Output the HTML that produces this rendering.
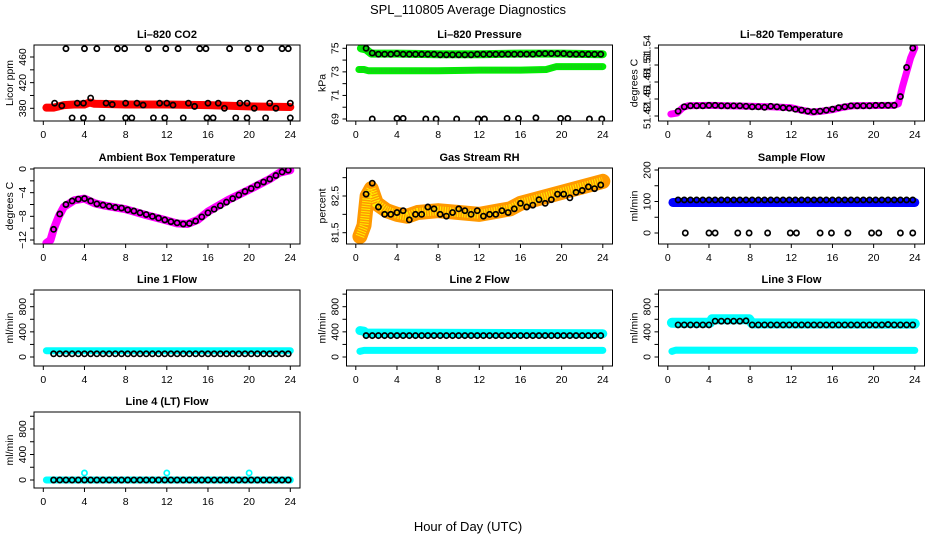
<!DOCTYPE html>
<html><head><meta charset="utf-8">
<style>
html,body{margin:0;padding:0;background:#fff;}
svg{display:block;font-family:"Liberation Sans",sans-serif;}
.t{font-weight:bold;font-size:11px;}
.tk{font-size:10.5px;}
</style></head>
<body>
<svg id="chart" width="936" height="540" viewBox="0 0 936 540">
<text x="468" y="14" text-anchor="middle" font-size="13">SPL_110805  Average Diagnostics</text>
<text x="468" y="531" text-anchor="middle" font-size="13">Hour of Day (UTC)</text>
</svg>
<script>
// shared categories
const circleHours = [1.0,1.6,2.2,2.8,3.4,4.0,4.6,5.2,5.8,6.4,7.0,7.6,8.2,8.8,9.4,10.0,10.6,11.2,11.8,12.4,13.0,13.6,14.2,14.8,15.4,16.0,16.6,17.2,17.8,18.4,19.0,19.6,20.2,20.8,21.4,22.0,22.6,23.2,23.8];
const xTicks = [0,4,8,12,16,20,24];

// CO2
const co2BandH = [0.3,1,2,3,4,4.5,5,8,12,16,20,24];
const co2BandV = [381,381,385,386,386,389,387,386,386,385,383,382];
const co2MidH = [1.1,1.8,3.3,3.9,4.6,6.1,6.7,8,9.1,9.7,11.3,12,12.6,14.1,14.7,16,17,17.6,19.1,19.8,20.5,22,22.6,24];
const co2MidV = [388,384,388,388,396,388,386,388,388,385,388,388,385,388,383,388,388,380,388,388,380,388,380,388];
const co2TopH = [2.2,4.0,5.2,7.2,7.9,10.2,11.9,13.1,15.2,15.8,18.1,19.9,21.1,23.2,23.8];
const co2TopV = [473,473,473,473,473,473,473,473,473,473,473,473,473,473,473];
const co2LowH = [2.8,3.9,5.7,8.0,8.6,10.7,11.8,13.6,15.9,16.5,18.7,19.8,21.6,24.0];
const co2LowV = [365,365,365,365,365,365,365,365,365,365,365,365,365,365];

// Pressure
const prUpH = [0.5,1,1.5,4,8,12,16,20,24];
const prUpV = [75.0,74.9,74.55,74.55,74.5,74.5,74.55,74.55,74.5];
const prLoH = [0.3,0.8,1.2,4,8,12,16,18.5,19.5,24];
const prLoV = [73.2,73.2,73.1,73.1,73.1,73.15,73.15,73.2,73.45,73.45];
const prCircV = [75.0,74.6,74.5,74.5,74.5,74.55,74.5,74.5,74.5,74.5,74.5,74.5,74.45,74.45,74.45,74.45,74.45,74.45,74.5,74.5,74.5,74.5,74.5,74.5,74.5,74.5,74.5,74.5,74.55,74.55,74.55,74.55,74.55,74.5,74.5,74.5,74.5,74.5,74.5];
const prLowH = [1.6,4.0,4.6,6.8,7.8,9.8,11.9,12.5,14.7,15.8,17.5,19.9,20.6,22.7,23.9];
const prLowV = [69,69.05,69.05,69,69,69,69,69,69.05,69.05,69.1,69.05,69.05,69,69];

// Li-820 temperature
const ltBandH = [0.3,0.9,1.5,2,4,8,10,12,13,14,15,16,17,18,22,22.4,22.8,23.2,23.6,24];
const ltBandV = [51.404,51.406,51.418,51.421,51.422,51.42,51.419,51.417,51.412,51.408,51.41,51.413,51.418,51.421,51.422,51.425,51.46,51.49,51.52,51.54];
const ltCircV = [51.41,51.419,51.421,51.421,51.421,51.422,51.422,51.421,51.421,51.421,51.421,51.42,51.419,51.419,51.418,51.42,51.419,51.417,51.416,51.414,51.412,51.41,51.409,51.41,51.412,51.414,51.417,51.419,51.421,51.421,51.421,51.421,51.422,51.422,51.422,51.422,51.44,51.5,51.54];
const ltTicks = [51.40,51.435,51.47,51.505,51.54];
const ltTickLabels = ['51.42','51.45','51.48','51.51','51.54'];

// Ambient box temperature
const abBandH = [0.3,0.7,1,1.5,2,3,4,5,6,8,10,12,13,14,15,16,18,20,22,23,24];
const abBandV = [-12.5,-12,-10.2,-8,-6.4,-5.3,-5,-5.8,-6.2,-6.8,-7.8,-8.7,-9.2,-9.3,-8.6,-7.2,-5.2,-3.5,-1.7,-0.6,-0.2];
const abCircV = [-10.2,-7.6,-6.0,-5.4,-5.1,-5.0,-5.4,-5.9,-6.1,-6.3,-6.5,-6.6,-6.9,-7.1,-7.4,-7.7,-8.0,-8.3,-8.6,-8.9,-9.1,-9.3,-9.2,-8.8,-8.1,-7.4,-6.8,-6.2,-5.6,-5.0,-4.4,-3.8,-3.3,-2.7,-2.2,-1.7,-1.1,-0.5,-0.2];

// Gas stream RH
const rhBandH = [0.4,0.8,1.1,1.5,2,3,4,5,6,8,10,12,14,15,16,18,20,22,24];
const rhBandV = [81.4,81.7,82.5,82.7,82.3,82.1,82.0,81.95,82.05,82.1,82.05,82.0,82.1,82.15,82.3,82.45,82.6,82.75,82.9];
const rhCircV = [82.55,82.85,82.2,82.0,82.0,82.05,82.1,81.85,82.0,82.0,82.2,82.15,82.0,81.95,82.05,82.15,82.1,82.0,82.1,81.95,82.0,82.0,82.1,82.05,82.15,82.3,82.2,82.25,82.4,82.3,82.4,82.55,82.55,82.45,82.6,82.65,82.75,82.7,82.8];

// Sample flow
const sfBandH = [0.5,24];
const sfBandV = [97,97];
const sfCircV = [105,105,105,105,105,105,105,105,105,105,105,105,105,105,105,105,105,105,105,105,105,105,105,105,105,105,105,105,105,105,105,105,105,105,105,105,105,105,105];
const sfLowH = [1.7,4.0,4.6,6.8,7.9,9.7,11.9,12.5,14.8,15.9,17.5,19.8,20.5,22.6,23.8];
const sfLowV = [0,0,0,0,0,0,0,0,0,0,0,0,0,0,0];

// Line flows
const l1BandH = [0.3,24]; const l1BandV = [100,100];
const l1CircV = [50,50,50,50,50,50,50,50,50,50,50,50,50,50,50,50,50,50,50,50,50,50,50,50,50,50,50,50,50,50,50,50,50,50,50,50,50,50,50];
const l2UpH = [0.4,0.8,1,24]; const l2UpV = [420,410,380,370];
const l2LoH = [0.4,0.8,24]; const l2LoV = [90,105,105];
const l2CircV = [340,340,340,340,340,340,340,340,340,340,340,340,340,340,340,340,340,340,340,340,340,340,340,340,340,340,340,340,340,340,340,340,340,340,340,340,340,340,340];
const l3UpH = [0.4,4.1,4.3,7.9,8.2,24]; const l3UpV = [545,545,600,600,535,530];
const l3LoH = [0.4,0.8,24]; const l3LoV = [90,110,105];
const l3CircV = [510,510,510,510,510,510,570,570,570,570,570,575,510,510,510,510,510,510,510,510,510,510,510,510,510,510,510,510,510,510,510,510,510,510,515,510,510,510,510];
const l4BandH = [0.3,24]; const l4BandV = [0,0];
const l4CircV = [0,0,0,0,0,0,0,0,0,0,0,0,0,0,0,0,0,0,0,0,0,0,0,0,0,0,0,0,0,0,0,0,0,0,0,0,0,0,0];
const l4SpikeH = [4,12,20]; const l4SpikeV = [110,110,110];

const NS = "http://www.w3.org/2000/svg";
const svg = document.getElementById('chart');
function mk(tag, parent) { const e = document.createElementNS(NS, tag); parent.appendChild(e); return e; }

const colL = [34, 346.5, 658.5];
const rowT = [45, 168, 290, 412];
const W = 266, H = 76;

function panel(o) {
  const L = colL[o.c], T = rowT[o.r];
  const g = mk('g', svg);
  
  
  const xs = h => L + 9.3 + h * (247 / 24);
  const ys = v => T + o.p1 + (v - o.v1) * (o.p2 - o.p1) / (o.v2 - o.v1);
  const clip = mk('clipPath', g); clip.setAttribute('id', 'cl' + o.name);
  const cr = mk('rect', clip); cr.setAttribute('x', L); cr.setAttribute('y', T); cr.setAttribute('width', W); cr.setAttribute('height', H);
  const pg = mk('g', g); pg.setAttribute('clip-path', 'url(#cl' + o.name + ')');
  
  
  (o.bands || []).forEach((b, i) => {
    const pl = mk('polyline', pg);
    
    
    pl.setAttribute('points', b.x.map((h, k) => xs(h) + ',' + ys(b.y[k])).join(' '));
    pl.setAttribute('fill', 'none'); pl.setAttribute('stroke', b.col); pl.setAttribute('stroke-width', b.w);
    pl.setAttribute('stroke-linejoin', 'round'); pl.setAttribute('stroke-linecap', 'round');
    if (b.dash) {
      const p2 = mk('polyline', pg);
      
      
      p2.setAttribute('points', b.x.map((h, k) => xs(h) + ',' + ys(b.y[k])).join(' '));
      p2.setAttribute('fill', 'none'); p2.setAttribute('stroke', b.dash); p2.setAttribute('stroke-width', b.w * 0.6);
      p2.setAttribute('stroke-dasharray', '1 1.5');
    }
  });
  (o.pts || []).forEach((s, i) => {
    s.x.forEach((h, k) => {
      const c = mk('circle', pg);
      
      
      c.setAttribute('cx', xs(h)); c.setAttribute('cy', ys(s.y[k])); c.setAttribute('r', 2.6);
      c.setAttribute('fill', 'none'); c.setAttribute('stroke', s.col || '#000'); c.setAttribute('stroke-width', 1.7);
    });
  });
  const box = mk('rect', g);
  
  
  box.setAttribute('x', L); box.setAttribute('y', T); box.setAttribute('width', W); box.setAttribute('height', H);
  box.setAttribute('fill', 'none'); box.setAttribute('stroke', '#000'); box.setAttribute('stroke-width', 1);
  const tt = mk('text', g);
  
  
  tt.setAttribute('class', 't'); tt.setAttribute('x', L + W / 2); tt.setAttribute('y', T - 7); tt.setAttribute('text-anchor', 'middle');
  tt.textContent = o.title;
  const xa = mk('line', g);
  
  
  xa.setAttribute('x1', xs(0)); xa.setAttribute('x2', xs(24)); xa.setAttribute('y1', T + H); xa.setAttribute('y2', T + H); xa.setAttribute('stroke', '#000');
  xTicks.forEach(h => {
    const tl = mk('line', g);
    
    
    tl.setAttribute('x1', xs(h)); tl.setAttribute('x2', xs(h)); tl.setAttribute('y1', T + H); tl.setAttribute('y2', T + H + 4); tl.setAttribute('stroke', '#000');
    const tx = mk('text', g);
    
    
    tx.setAttribute('class', 'tk'); tx.setAttribute('x', xs(h)); tx.setAttribute('y', T + H + 17); tx.setAttribute('text-anchor', 'middle');
    tx.textContent = h;
  });
  const yt = o.yt;
  const ya = mk('line', g);
  
  
  ya.setAttribute('x1', L); ya.setAttribute('x2', L); ya.setAttribute('y1', ys(yt[0])); ya.setAttribute('y2', ys(yt[yt.length - 1])); ya.setAttribute('stroke', '#000');
  yt.forEach((v, i) => {
    const tl = mk('line', g);
    
    
    tl.setAttribute('x1', L - 4); tl.setAttribute('x2', L); tl.setAttribute('y1', ys(v)); tl.setAttribute('y2', ys(v)); tl.setAttribute('stroke', '#000');
    if (o.yl[i] !== '') {
      const tx = mk('text', g);
      
      
      tx.setAttribute('class', 'tk'); tx.setAttribute('text-anchor', 'middle');
      tx.setAttribute('transform', 'translate(' + (L - 8) + ',' + ys(v) + ') rotate(-90)');
      tx.textContent = o.yl[i];
    }
  });
  const yl = mk('text', g);
  
  
  yl.setAttribute('class', 'tk'); yl.setAttribute('text-anchor', 'middle');
  yl.setAttribute('transform', 'translate(' + (L - 21) + ',' + (T + H / 2) + ') rotate(-90)');
  yl.textContent = o.ylab;
}

const K = '#000', CY = '#00ffff';
const flowT = [0,200,400,600,800,1000], flowL = ['0','','400','','800',''];

panel({name:'co2', c:0, r:0, title:'Li\u2013820 CO2', ylab:'Licor ppm', v1:380, p1:63.3, v2:460, p2:12, yt:[380,400,420,440,460], yl:['380','','420','','460'],
  bands:[{x:co2BandH, y:co2BandV, col:'#ff0000', w:8}],
  pts:[{x:co2MidH,y:co2MidV},{x:co2TopH,y:co2TopV},{x:co2LowH,y:co2LowV}]});
panel({name:'pressure', c:1, r:0, title:'Li\u2013820 Pressure', ylab:'kPa', v1:75, p1:3.3, v2:69, p2:74, yt:[69,70,71,72,73,74,75], yl:['69','','71','','73','','75'],
  bands:[{x:prUpH,y:prUpV,col:'#00ee00',w:8,dash:'#22bb22'},{x:prLoH,y:prLoV,col:'#00ee00',w:7,dash:'#22bb22'}],
  pts:[{x:circleHours,y:prCircV},{x:prLowH,y:prLowV}]});
panel({name:'li820-temperature', c:2, r:0, title:'Li\u2013820 Temperature', ylab:'degrees C', v1:51.54, p1:3, v2:51.40, p2:71, yt:ltTicks, yl:ltTickLabels,
  bands:[{x:ltBandH,y:ltBandV,col:'#ff00ff',w:7}],
  pts:[{x:circleHours,y:ltCircV}]});
panel({name:'ambient-temperature', c:0, r:1, title:'Ambient Box Temperature', ylab:'degrees C', v1:0, p1:1, v2:-12, p2:72, yt:[-12,-10,-8,-6,-4,-2,0], yl:['\u221212','','\u22128','','\u22124','','0'],
  bands:[{x:abBandH,y:abBandV,col:'#ff00ff',w:8}],
  pts:[{x:circleHours,y:abCircV}]});
panel({name:'rh', c:1, r:1, title:'Gas Stream RH', ylab:'percent', v1:82.5, p1:28, v2:81.5, p2:64.7, yt:[81.5,82,82.5,83], yl:['81.5','','82.5',''],
  bands:[{x:rhBandH,y:rhBandV,col:'#ff9900',w:15,dash:'#ffee00'}],
  pts:[{x:circleHours,y:rhCircV}]});
panel({name:'sample-flow', c:2, r:1, title:'Sample Flow', ylab:'ml/min', v1:200, p1:2, v2:0, p2:65, yt:[0,50,100,150,200], yl:['0','','100','','200'],
  bands:[{x:sfBandH,y:sfBandV,col:'#0000ff',w:9}],
  pts:[{x:circleHours,y:sfCircV},{x:sfLowH,y:sfLowV}]});
panel({name:'line1-flow', c:0, r:2, title:'Line 1 Flow', ylab:'ml/min', v1:0, p1:67, v2:800, p2:16.7, yt:flowT, yl:flowL,
  bands:[{x:l1BandH,y:l1BandV,col:CY,w:7}],
  pts:[{x:circleHours,y:l1CircV}]});
panel({name:'line2-flow', c:1, r:2, title:'Line 2 Flow', ylab:'ml/min', v1:0, p1:67, v2:800, p2:16.7, yt:flowT, yl:flowL,
  bands:[{x:l2UpH,y:l2UpV,col:CY,w:9},{x:l2LoH,y:l2LoV,col:CY,w:7}],
  pts:[{x:circleHours,y:l2CircV}]});
panel({name:'line3-flow', c:2, r:2, title:'Line 3 Flow', ylab:'ml/min', v1:0, p1:67, v2:800, p2:16.7, yt:flowT, yl:flowL,
  bands:[{x:l3UpH,y:l3UpV,col:CY,w:10},{x:l3LoH,y:l3LoV,col:CY,w:7}],
  pts:[{x:circleHours,y:l3CircV}]});
panel({name:'line4-flow', c:0, r:3, title:'Line 4 (LT) Flow', ylab:'ml/min', v1:0, p1:68, v2:800, p2:17, yt:flowT, yl:flowL,
  bands:[{x:l4BandH,y:l4BandV,col:CY,w:7}],
  pts:[{x:circleHours,y:l4CircV},{x:l4SpikeH,y:l4SpikeV,col:CY}]});
</script>
</body></html>
